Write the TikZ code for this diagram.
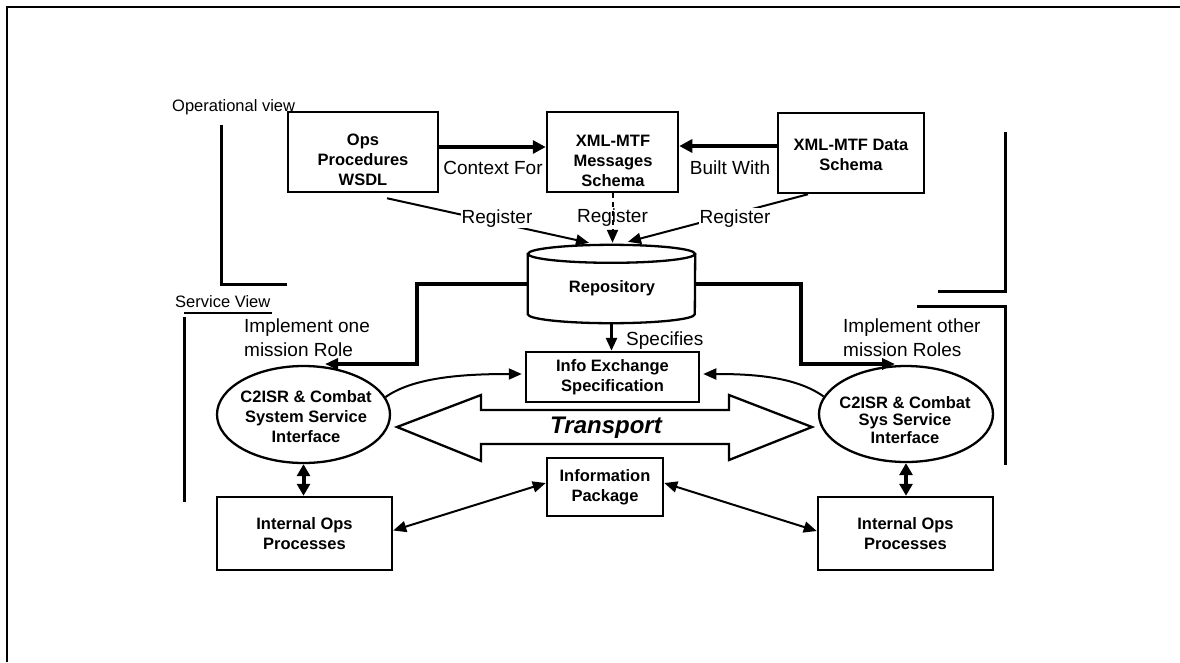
\documentclass[tikz,border=0pt]{standalone}
\usepackage{fontspec}
\setmainfont{Liberation Sans}
\usetikzlibrary{arrows.meta,shapes.geometric,calc}
\begin{document}
\begin{tikzpicture}[x=1pt,y=-1pt,
  box/.style={draw, line width=2.5pt, rectangle, inner sep=0pt},
  oval/.style={draw, line width=2.3pt, ellipse, inner sep=0pt, minimum width=173pt, minimum height=97pt},
  btext/.style={align=center, font=\fontsize{16.5}{20}\selectfont\bfseries, inner sep=0pt},
  lbl/.style={font=\fontsize{19}{24}\selectfont, inner sep=1pt},
  viewlbl/.style={font=\fontsize{16.5}{20}\selectfont, inner sep=0pt},
  arrowend/.style={-{Triangle[length=13pt,width=11pt]}},
  bigend/.style={-{Triangle[length=13pt,width=13pt]}},
  twoends/.style={{Triangle[length=13pt,width=11pt]}-{Triangle[length=13pt,width=11pt]}},
  bigtwoends/.style={{Triangle[length=12pt,width=13pt]}-{Triangle[length=12pt,width=13pt]}},
  heavy/.style={line width=4pt},
  bracket/.style={line width=3pt},
  reg/.style={line width=2pt},
]
\useasboundingbox (0,0) rectangle (1180,662);

% page frame
\draw[line width=2.5pt] (7,662) -- (7,7) -- (1180,7);

% view labels and their brackets
\node[viewlbl, anchor=base west] (opview) at (172,111) {Operational view};
\draw[bracket] (221,125) -- (221,284) -- (287,284);
\node[viewlbl, anchor=base west] (svview) at (175,307) {Service View};
\draw[line width=2.5pt] (184,313) -- (272,313);
\draw[bracket] (184,317) -- (184,502);
\draw[bracket] (1005,132) -- (1005,291) -- (938,291);
\draw[bracket] (917,306) -- (1005,306) -- (1005,465);

% top row of boxes
\node[box, minimum width=150pt, minimum height=80pt] (ops) at (363,152) {};
\node[btext] (opsT) at (363,160) {Ops\\Procedures\\WSDL};
\node[box, minimum width=131pt, minimum height=80pt] (msg) at (612.5,152) {};
\node[btext] (msgT) at (613,161) {XML-MTF\\Messages\\Schema};
\node[box, minimum width=146pt, minimum height=80pt] (data) at (851,153) {};
\node[btext] (dataT) at (851,154.5) {XML-MTF Data\\Schema};

% repository cylinder
\node[minimum width=167pt, minimum height=78pt, inner sep=0pt] (repo) at (611.5,284) {};
\draw[line width=2.3pt] ($(repo.north west)+(0,9)$) -- ($(repo.south west)+(0,-9)$)
  arc[start angle=180, end angle=360, x radius=83.5pt, y radius=9pt] -- ($(repo.north east)+(0,9)$);
\draw[line width=2.3pt] ($(repo.north)+(0,9)$) ellipse[x radius=83.5pt, y radius=9pt];
\node[btext] (repoT) at (612,288) {Repository};

% service interfaces
\node[oval] (lell) at (303.5,414.5) {};
\node[btext] (lellT) at (306,417) {C2ISR \& Combat\\System Service\\Interface};
\node[oval, minimum width=174pt, minimum height=96pt] (rell) at (906,414) {};
\node[btext, font=\fontsize{16.5}{17.5}\selectfont\bfseries] (rellT) at (905,420) {C2ISR \& Combat\\Sys Service\\Interface};

% middle and bottom boxes
\node[box, btext, minimum width=173pt, minimum height=50pt] (ies) at (612.5,377) {Info Exchange\\Specification};
\node[box, btext, minimum width=116pt, minimum height=58pt] (pkg) at (605,487) {Information\\Package};
\node[box, btext, minimum width=175pt, minimum height=73pt] (lops) at (304.5,533.5) {Internal Ops\\Processes};
\node[box, btext, minimum width=175pt, minimum height=73pt] (rops) at (905.5,533.5) {Internal Ops\\Processes};

% transport double arrow
\draw[line width=2.3pt, line join=miter] (397,427) -- (481,395) -- (481,410) -- (729,410) -- (729,395)
  -- (812,427) -- (729,460) -- (729,444) -- (481,444) -- (481,461) -- cycle;
\node[font=\fontsize{24}{28}\selectfont\bfseries\itshape, anchor=base, inner sep=0pt] (trans) at (606,433) {Transport};

% top row relations
\draw[heavy, bigend] ($(ops.east)+(0,-5)$) -- ($(msg.west)+(0,-5)$);
\draw[heavy, bigend] ($(data.west)+(0,-7)$) -- ($(msg.east)+(0,-6)$);
\node[lbl, anchor=base] (ctxL) at (493,174) {Context For};
\node[lbl, anchor=base] (bwL) at (730,174) {Built With};

% registration into the repository
\coordinate (regA) at ($(repo.north)+(-22.5,-2)$);
\coordinate (regB) at ($(repo.north)+(1,-2)$);
\coordinate (regC) at ($(repo.north)+(16.5,-3)$);
\draw[reg, arrowend] ($(ops.south)+(24,5)$) -- (regA);
\draw[reg, arrowend, dash pattern=on 5pt off 4pt] (msg.south) -- (regB);
\draw[reg, arrowend] ($(data.south)+(-43,0)$) -- (regC);
\node[lbl, anchor=base, fill=white] (regL1) at (497,223) {Register};
\node[lbl, anchor=base] (regL2) at (612.5,222) {Register};
\node[lbl, anchor=base, fill=white] (regL3) at (735,223) {Register};

% repository to the service interfaces
\coordinate (lTip) at (325,364);
\coordinate (rTip) at (895,364);
\draw[line width=3.2pt, line join=miter, arrowend] (repo.west) -| (417,364) -- (lTip);
\draw[line width=3.2pt, line join=miter, arrowend] (repo.east) -| (801,364) -- (rTip);
\node[lbl, align=left, anchor=west] (implL) at (243,338) {Implement one\\mission Role};
\node[lbl, align=left, anchor=west] (implR) at (842,338) {Implement other\\mission Roles};

% specification
\draw[line width=2.7pt, arrowend] (repo.south) -- (repo.south |- ies.north);
\node[lbl, anchor=base west] (specL) at (625,345) {Specifies};

% interfaces to the specification
\draw[reg, arrowend] (lell.12) .. controls (415,376) and (470,374) .. ($(ies.west)+(-3,-3)$);
\draw[reg, arrowend] (rell.168) .. controls (795,376) and (750,374) .. ($(ies.east)+(3,-3)$);

% interfaces to internal processes
\draw[heavy, bigtwoends] (lell.south) -- (lell.south |- lops.north);
\draw[heavy, bigtwoends] (rell.south) -- (rell.south |- rops.north);

% processes to the information package
\draw[reg, twoends] ($(lops.east)+(0,-3)$) -- ($(pkg.west)+(0,-4)$);
\draw[reg, twoends] ($(pkg.east)+(0,-4)$) -- ($(rops.west)+(0,-2.5)$);
\end{tikzpicture}
\end{document}
